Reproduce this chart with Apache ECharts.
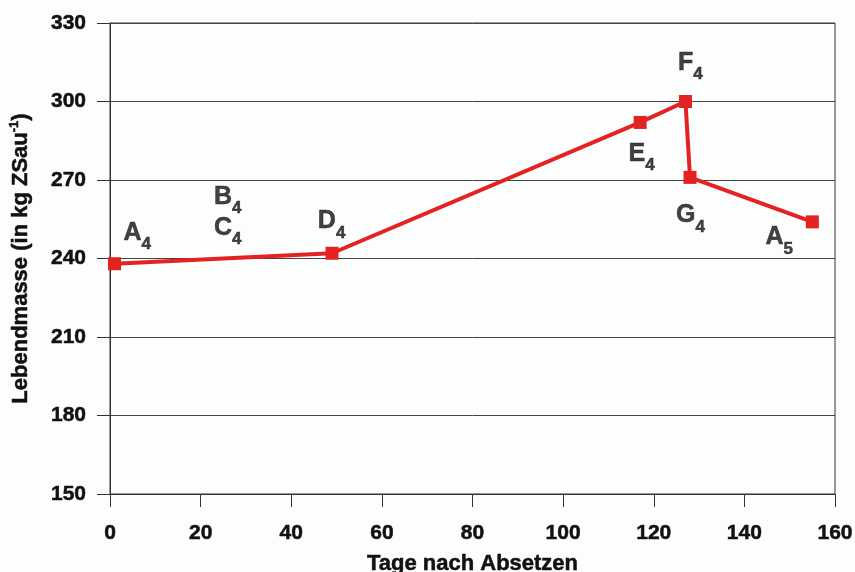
<!DOCTYPE html>
<html><head><meta charset="utf-8">
<script src="https://cdn.jsdelivr.net/npm/echarts@6/dist/echarts.min.js"></script>
<style>html,body{margin:0;padding:0;background:#fdfdfd}#c{width:855px;height:572px}</style>
</head><body><div id="c"></div>
<script>
// Data
const days = [1, 49, 117, 127, 128, 155];
const mass = [238, 242, 292, 300, 271, 254];
// Phase annotations (letter + subscript) placed in data coordinates
const labelLetters = ['A', 'B', 'C', 'D', 'E', 'F', 'G', 'A'];
const labelSubs = ['4', '4', '4', '4', '4', '4', '4', '5'];
const labelX = [6.0, 26.0, 26.0, 48.9, 117.3, 128.1, 128.1, 147.7];
const labelY = [249.8, 263.5, 251.6, 254.2, 280.0, 314.7, 256.5, 248.0];
const xMin = 0, xMax = 160, xStep = 20;
const yMin = 150, yMax = 330, yStep = 30;

const FONT = 'Liberation Sans, Arial, sans-serif';
const TXT = '#111111';
const RED = '#e32322';
const heavy = {textBorderColor: TXT, textBorderWidth: 0.5};

const chart = echarts.init(document.getElementById('c'), null, {renderer: 'canvas'});
chart.setOption({
  animation: false,
  backgroundColor: '#fdfdfd',
  grid: {left: 110, right: 20, top: 23, bottom: 78, containLabel: false, outerBoundsMode: 'none',
         show: true, backgroundColor: '#fcfdfd', borderColor: '#333', borderWidth: 1},
  xAxis: {
    type: 'value', min: xMin, max: xMax, interval: xStep,
    name: 'Tage nach Absetzen', nameLocation: 'middle', nameGap: 59,
    nameTextStyle: Object.assign({fontFamily: FONT, fontWeight: 'bold', fontSize: 22, color: TXT}, heavy),
    axisLine: {show: true, lineStyle: {color: '#333', width: 1}},
    axisTick: {show: true, length: 13, lineStyle: {color: '#333'}},
    axisLabel: Object.assign({fontFamily: FONT, fontWeight: 'bold', fontSize: 21, color: TXT, margin: 29}, heavy),
    splitLine: {show: false}
  },
  yAxis: {
    type: 'value', min: yMin, max: yMax, interval: yStep,
    name: '{n|Lebendmasse (in kg ZSau}{sup|-1}{n|)}', nameLocation: 'middle', nameGap: 76, nameRotate: 90,
    nameTextStyle: {
      fontFamily: FONT, fontWeight: 'bold', fontSize: 22, color: TXT,
      rich: {
        n: Object.assign({fontFamily: FONT, fontWeight: 'bold', fontSize: 22, color: TXT, lineHeight: 26}, heavy),
        sup: Object.assign({fontFamily: FONT, fontWeight: 'bold', fontSize: 13, color: TXT, lineHeight: 14, verticalAlign: 'top'}, heavy)
      }
    },
    axisLine: {show: true, lineStyle: {color: '#333', width: 1}},
    axisTick: {show: true, length: 13, lineStyle: {color: '#333'}},
    axisLabel: Object.assign({fontFamily: FONT, fontWeight: 'bold', fontSize: 21, color: TXT, margin: 24}, heavy),
    splitLine: {show: true, lineStyle: {color: '#444', width: 1}}
  },
  series: [
    {
      type: 'line',
      data: days.map((d, i) => [d, mass[i]]),
      symbol: 'rect', symbolSize: 13, showSymbol: true,
      lineStyle: {color: RED, width: 4},
      itemStyle: {color: RED},
      emphasis: {disabled: true},
      clip: false, z: 3
    },
    {
      type: 'scatter',
      data: labelX.map((x, i) => [x, labelY[i], labelLetters[i], labelSubs[i]]),
      symbolSize: 0,
      silent: true,
      emphasis: {disabled: true},
      label: {
        show: true, position: 'inside',
        formatter: p => '{m|' + p.data[2] + '}{s|' + p.data[3] + '}',
        rich: {
          m: Object.assign({fontFamily: FONT, fontWeight: 'bold', fontSize: 25, color: TXT, lineHeight: 40}, heavy),
          s: Object.assign({fontFamily: FONT, fontWeight: 'bold', fontSize: 17, color: TXT, lineHeight: 18, verticalAlign: 'bottom'}, heavy)
        }
      },
      z: 4
    }
  ]
});
</script></body></html>
